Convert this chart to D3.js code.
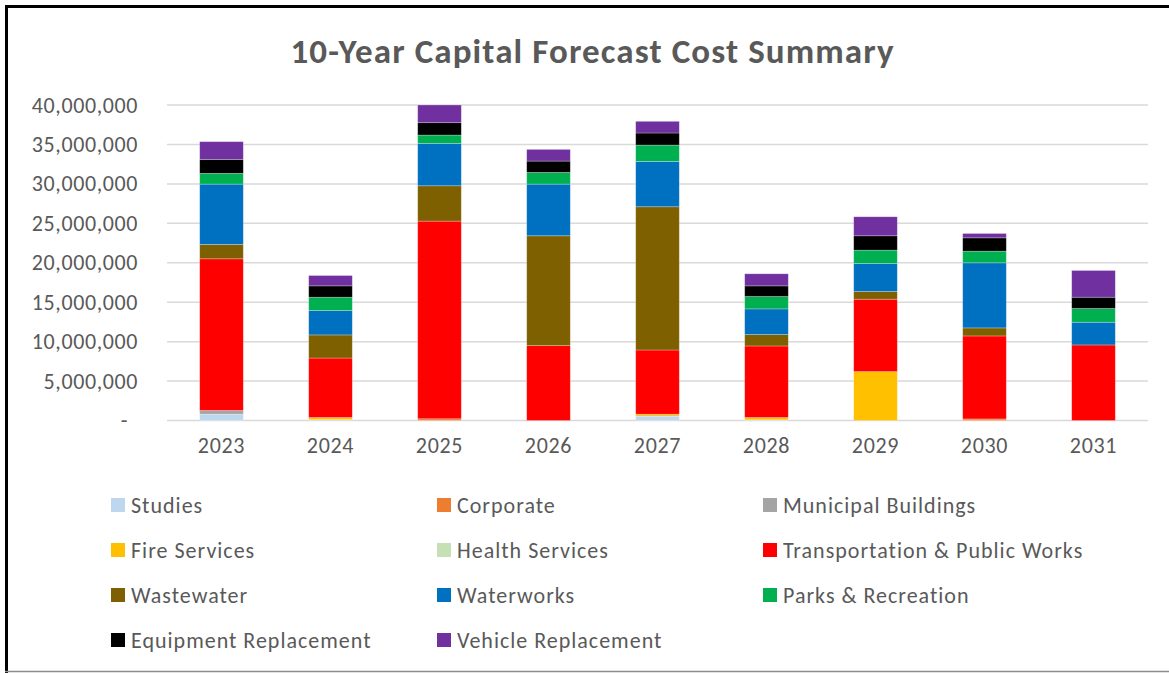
<!DOCTYPE html>
<html>
<head>
<meta charset="utf-8">
<script src="https://cdn.jsdelivr.net/npm/d3@7"></script>
<style>
  html, body { margin: 0; padding: 0; background: #fff; }
  svg { display: block; }
  text { font-family: Carlito, Lato, "Open Sans", sans-serif; }
</style>
</head>
<body>
<svg id="chart" width="1169" height="673"></svg>
<script>
const title = "10-Year Capital Forecast Cost Summary";
const years = ["2023", "2024", "2025", "2026", "2027", "2028", "2029", "2030", "2031"];
const seriesNames = ["Studies", "Corporate", "Municipal Buildings", "Fire Services", "Health Services",
  "Transportation & Public Works", "Wastewater", "Waterworks", "Parks & Recreation",
  "Equipment Replacement", "Vehicle Replacement"];
const seriesColors = ["#BDD7EE", "#ED7D31", "#A5A5A5", "#FFC000", "#C5E0B4",
  "#FF0000", "#7F6000", "#0070C0", "#00B050", "#000000", "#7030A0"];

const studies      = [800000, 100000, 0, 0, 550000, 80000, 0, 0, 0];
const corporate    = [0, 0, 220000, 0, 0, 0, 0, 200000, 0];
const municipal    = [470000, 0, 0, 0, 0, 0, 0, 0, 0];
const fire         = [0, 280000, 0, 0, 250000, 300000, 6200000, 0, 0];
const health       = [0, 0, 0, 0, 0, 0, 0, 0, 0];
const transport    = [19230000, 7540000, 25060000, 9490000, 8140000, 9070000, 9180000, 10520000, 9580000];
const wastewater   = [1820000, 2930000, 4480000, 13930000, 18160000, 1440000, 970000, 1020000, 0];
const waterworks   = [7650000, 3090000, 5380000, 6550000, 5750000, 3260000, 3550000, 8250000, 2880000];
const parks        = [1360000, 1690000, 1050000, 1480000, 2070000, 1570000, 1700000, 1480000, 1740000];
const equipment    = [1770000, 1440000, 1570000, 1440000, 1530000, 1350000, 1820000, 1690000, 1430000];
const vehicle      = [2250000, 1310000, 2240000, 1480000, 1480000, 1530000, 2410000, 550000, 3390000];

const yTicks = [0, 5000000, 10000000, 15000000, 20000000, 25000000, 30000000, 35000000, 40000000];

const seriesValues = [studies, corporate, municipal, fire, health, transport,
  wastewater, waterworks, parks, equipment, vehicle];

const table = years.map((yr, i) => {
  const row = { year: yr };
  seriesNames.forEach((n, k) => { row[n] = seriesValues[k][i]; });
  return row;
});

const svg = d3.select("#chart");
const textColor = "#595959";

// frame
svg.append("line").attr("x1", 6.5).attr("x2", 6.5).attr("y1", 5).attr("y2", 673)
  .attr("stroke", "#000").attr("stroke-width", 3);
svg.append("line").attr("x1", 5).attr("x2", 1169).attr("y1", 6.5).attr("y2", 6.5)
  .attr("stroke", "#000").attr("stroke-width", 3);
svg.append("line").attr("x1", 5).attr("x2", 1169).attr("y1", 671.5).attr("y2", 671.5)
  .attr("stroke", "#8c8c8c").attr("stroke-width", 1.5);

// title
svg.append("text").attr("x", 592).attr("y", 63).attr("text-anchor", "middle")
  .attr("font-size", 35).attr("font-weight", "bold").attr("fill", textColor)
  .attr("textLength", 603).attr("lengthAdjust", "spacing").text(title);

const x = d3.scaleBand().domain(years).range([167, 1148]).paddingInner(0.6).paddingOuter(0.3);
const y = d3.scaleLinear().domain([0, 40000000]).range([420.5, 105]);

// gridlines
svg.append("g").selectAll("line").data(yTicks).join("line")
  .attr("x1", 167).attr("x2", 1148)
  .attr("y1", d => y(d)).attr("y2", d => y(d))
  .attr("stroke", "#d9d9d9").attr("stroke-width", 1.5);

// y axis labels
const fmt = d3.format(",");
const yAxis = d3.axisLeft(y).tickValues(yTicks).tickSize(0).tickPadding(0)
  .tickFormat(d => d === 0 ? "-" : fmt(d));
const yg = svg.append("g").attr("transform", "translate(138,0)").call(yAxis);
yg.select(".domain").remove();
yg.selectAll("text").attr("font-size", 22).attr("fill", textColor)
  .attr("font-family", "Carlito, Lato, 'Open Sans', sans-serif")
  .attr("letter-spacing", "0.6px")
  .attr("dx", d => d === 0 ? -10 : 0);

// bars
const stack = d3.stack().keys(seriesNames);
const stacked = stack(table);
svg.append("g").selectAll("g").data(stacked).join("g")
  .attr("fill", (d, i) => seriesColors[i])
  .selectAll("rect").data(d => d).join("rect")
  .attr("x", d => x(d.data.year))
  .attr("width", x.bandwidth())
  .attr("y", d => y(d[1]))
  .attr("height", d => Math.max(0, y(d[0]) - y(d[1])))
  .attr("stroke", "#ffffff").attr("stroke-opacity", d => (d[1] - d[0]) > 0 ? 0.35 : 0)
  .attr("stroke-width", 0.75);

// x axis labels
const xAxis = d3.axisBottom(x).tickSize(0).tickPadding(0);
const xg = svg.append("g").attr("transform", "translate(0,437)").call(xAxis);
xg.select(".domain").remove();
xg.selectAll("text").attr("font-size", 22).attr("fill", textColor)
  .attr("font-family", "Carlito, Lato, 'Open Sans', sans-serif")
  .attr("letter-spacing", "0.7px").attr("dy", "0.71em");

// legend
const legendCols = [111, 437, 763];
const legendRows = [505, 550, 595, 640];
const lg = svg.append("g").selectAll("g").data(seriesNames).join("g")
  .attr("transform", (d, i) => `translate(${legendCols[i % 3]},${legendRows[Math.floor(i / 3)]})`);
lg.append("rect").attr("x", 0).attr("y", -7).attr("width", 14).attr("height", 14)
  .attr("fill", (d, i) => seriesColors[i]);
lg.append("text").attr("x", 20).attr("y", 0).attr("dy", "0.35em")
  .attr("font-size", 22).attr("letter-spacing", "1px").attr("fill", textColor).text(d => d);
</script>
</body>
</html>
